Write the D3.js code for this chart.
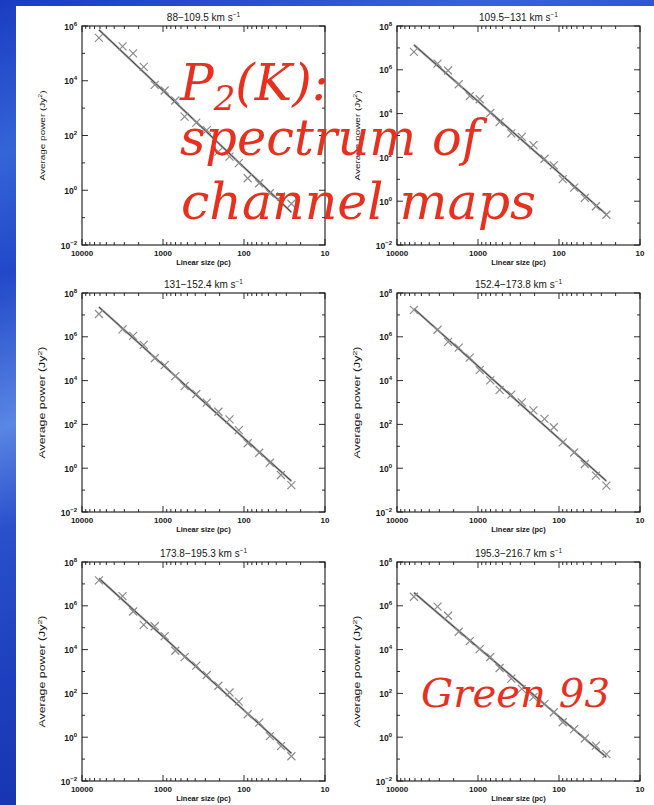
<!DOCTYPE html>
<html>
<head>
<meta charset="utf-8">
<script src="https://cdn.jsdelivr.net/npm/d3@7"></script>
<style>
  html, body { margin: 0; padding: 0; background: #fff; }
  svg { display: block; }
</style>
</head>
<body>
<svg id="fig" width="654" height="805"></svg>
<script>
// Velocity ranges of the six channel maps
const panelTitles = [
  "88\u2212109.5 km s", "109.5\u2212131 km s", "131\u2212152.4 km s",
  "152.4\u2212173.8 km s", "173.8\u2212195.3 km s", "195.3\u2212216.7 km s"
];
// Linear size (pc) sampled by the power spectrum
const linearSize = [6180, 3160, 2340, 1730, 1265, 953, 705, 541, 388, 288, 207, 151, 116, 90, 65, 48, 35, 26];
// Average power (Jy^2) for each channel map
const power88  = [3.7e5, 1.8e5, 1.0e5, 3.2e4, 7.1e3, 4.4e3, 1.9e3, 490, 295, 158, 25.7, 17, 9.8, 2.75, 1.8, 0.78, 0.59, 0.32];
const power110 = [6.6e6, 1.9e6, 9.3e5, 2.2e5, 6.3e4, 4.5e4, 1.07e4, 4.1e3, 1.26e3, 870, 363, 87, 43, 10.2, 4.2, 1.41, 0.59, 0.24];
const power131 = [1.1e7, 2.2e6, 1.1e6, 4.3e5, 1.05e5, 5.1e4, 1.6e4, 5.6e3, 2.45e3, 980, 380, 170, 55, 13.8, 5.1, 1.78, 0.49, 0.17];
const power152 = [1.7e7, 2.1e6, 5.9e5, 3.2e5, 1.12e5, 3.0e4, 1.02e4, 3.8e3, 2.3e3, 1.02e3, 440, 180, 74, 15.1, 5.2, 1.55, 0.46, 0.16];
const power174 = [1.45e7, 2.75e6, 5.5e5, 1.35e5, 1.17e5, 4.1e4, 8.9e3, 4.5e3, 1.86e3, 690, 224, 110, 42, 11.2, 4.6, 1.12, 0.39, 0.135];
const power195 = [2.6e6, 9.1e5, 3.5e5, 6.5e4, 2.45e4, 1.05e4, 4.6e3, 1.45e3, 470, 162, 68, 33, 13.8, 4.8, 2.35, 0.87, 0.41, 0.17];
const panelSeries = [power88, power110, power131, power152, power174, power195];
// Upper decade of each power axis (lower is always 10^-2)
const yMaxExp = [6, 8, 8, 8, 8, 8];
const yMinExp = -2;
// Tick labels of the size axis
const xTickValues = [10000, 1000, 100, 10];
const xTickLabels = ["10000", "1000", "100", "10"];

const W = 654, H = 805;
const svg = d3.select("#fig");
const defs = svg.append("defs");

// Slide backdrop: blue gradient behind a white sheet
const grad = defs.append("linearGradient").attr("id", "slideBlue")
  .attr("x1", 0).attr("y1", 0).attr("x2", 0.25).attr("y2", 1);
[[0, "#1b3cc2"], [0.18, "#3564d8"], [0.32, "#2248c9"], [0.5, "#5a86e4"],
 [0.62, "#2a50cc"], [0.8, "#1d3fbf"], [1, "#1632ad"]].forEach(([o, c]) =>
  grad.append("stop").attr("offset", o).attr("stop-color", c));
svg.append("rect").attr("width", W).attr("height", H).attr("fill", "url(#slideBlue)");
svg.append("rect").attr("x", 16).attr("y", 6).attr("width", W - 16).attr("height", H - 6).attr("fill", "#fff");

const panelLeft = [82, 397];
const panelTop = [26, 293, 562];
const pw = 243, ph = 219;
const font = "'Liberation Sans', Arial, sans-serif";
const ink = "#161616";

panelSeries.forEach((vals, i) => {
  const col = i % 2, row = Math.floor(i / 2);
  const g = svg.append("g").attr("transform", `translate(${panelLeft[col]},${panelTop[row]})`);

  const x = d3.scaleLog().domain([1e4, 10]).range([0, pw]);
  const y = d3.scaleLog().domain([Math.pow(10, yMinExp), Math.pow(10, yMaxExp[i])]).range([ph, 0]);

  // Size-axis ticks on bottom and top, pointing inward
  x.ticks().forEach(v => {
    const lv = Math.log10(v);
    const major = Math.abs(lv - Math.round(lv)) < 1e-9;
    const len = major ? 6 : 3;
    const px = x(v);
    g.append("line").attr("x1", px).attr("x2", px).attr("y1", ph).attr("y2", ph - len)
      .attr("stroke", ink).attr("stroke-width", 0.9);
    g.append("line").attr("x1", px).attr("x2", px).attr("y1", 0).attr("y2", len)
      .attr("stroke", ink).attr("stroke-width", 0.9);
  });
  xTickValues.forEach((v, k) => {
    g.append("text").attr("x", x(v)).attr("y", ph + 10.5)
      .attr("text-anchor", "middle").attr("font-family", font).attr("font-size", 8)
      .attr("font-weight", "bold").attr("fill", ink).text(xTickLabels[k]);
  });

  // Power-axis ticks every decade on left and right, labels every second decade
  d3.range(yMinExp, yMaxExp[i] + 1).forEach(e => {
    const v = Math.pow(10, e);
    const py = y(v);
    const major = (e % 2 === 0);
    const len = major ? 6 : 3;
    g.append("line").attr("x1", 0).attr("x2", len).attr("y1", py).attr("y2", py)
      .attr("stroke", ink).attr("stroke-width", 0.9);
    g.append("line").attr("x1", pw).attr("x2", pw - len).attr("y1", py).attr("y2", py)
      .attr("stroke", ink).attr("stroke-width", 0.9);
    if (major) {
      const t = g.append("text").attr("x", -5).attr("y", py + 3.5)
        .attr("text-anchor", "end").attr("font-family", font).attr("font-size", 8.5)
        .attr("font-weight", "bold").attr("fill", ink);
      t.append("tspan").text("10");
      t.append("tspan").attr("font-size", 6).attr("dy", -4).text(e < 0 ? "\u2212" + (-e) : String(e));
    }
  });

  // Frame
  g.append("rect").attr("width", pw).attr("height", ph).attr("fill", "none")
    .attr("stroke", ink).attr("stroke-width", 1.1);

  // Panel title
  const tt = g.append("text").attr("x", pw / 2).attr("y", -5).attr("text-anchor", "middle")
    .attr("font-family", font).attr("font-size", 10).attr("fill", ink);
  tt.append("tspan").text(panelTitles[i]);
  tt.append("tspan").attr("font-size", 6.5).attr("dy", -4).text("\u22121");

  // Axis titles
  g.append("text").attr("x", pw / 2).attr("y", ph + 19.5).attr("text-anchor", "middle")
    .attr("font-family", font).attr("font-size", 7.5).attr("font-weight", "bold")
    .attr("fill", ink).text("Linear size (pc)");
  const yt = g.append("text").attr("transform", `translate(-37,${ph / 2}) rotate(-90)`)
    .attr("text-anchor", "middle").attr("font-family", font)
    .attr("font-size", row === 0 ? 7 : 8.5)
    .attr("textLength", row === 0 ? 90 : 112).attr("lengthAdjust", "spacingAndGlyphs")
    .attr("fill", ink);
  yt.append("tspan").text("Average power (Jy");
  yt.append("tspan").attr("font-size", row === 0 ? 5 : 6).attr("dy", -3).text("2");
  yt.append("tspan").attr("dy", 3).text(")");

  // Power-law fit in log space
  const lx = linearSize.map(Math.log10), ly = vals.map(Math.log10);
  const mx = d3.mean(lx), my = d3.mean(ly);
  const slope = d3.sum(lx.map((a, k) => (a - mx) * (ly[k] - my))) / d3.sum(lx.map(a => (a - mx) * (a - mx)));
  const icpt = my - slope * mx;
  const ends = d3.extent(linearSize);
  const fitPts = ends.map(s => [x(s), y(Math.pow(10, icpt + slope * Math.log10(s)))]);
  g.append("path").attr("d", d3.line()(fitPts)).attr("stroke", "#9a9a9a").attr("stroke-width", 2.2).attr("fill", "none");
  g.append("path").attr("d", d3.line()(fitPts)).attr("stroke", "#3a3a3a").attr("stroke-width", 0.9).attr("fill", "none");

  // Measured points
  g.selectAll("path.pt").data(vals).enter().append("path").attr("class", "pt")
    .attr("transform", (d, k) => `translate(${x(linearSize[k])},${y(d)})`)
    .attr("d", "M-4,-4L4,4M-4,4L4,-4")
    .attr("stroke", "#8c8c8c").attr("stroke-width", 1.2).attr("fill", "none");
});

// Slide annotations
const red = "#e8301f";
const serif = "'DejaVu Serif', serif";
const ann = svg.append("g").attr("font-family", serif).attr("font-style", "italic").attr("fill", red);
const p2 = ann.append("text").attr("x", 180).attr("y", 100).attr("font-size", 50);
p2.append("tspan").text("P");
p2.append("tspan").attr("font-size", 34).attr("dy", 10).text("2");
p2.append("tspan").attr("dy", -10).text("(K):");
ann.append("text").attr("x", 180).attr("y", 155).attr("font-size", 50)
  .attr("textLength", 300).attr("lengthAdjust", "spacingAndGlyphs").text("spectrum of");
ann.append("text").attr("x", 181).attr("y", 219).attr("font-size", 50)
  .attr("textLength", 355).attr("lengthAdjust", "spacingAndGlyphs").text("channel maps");
ann.append("text").attr("x", 421).attr("y", 707).attr("font-size", 40)
  .attr("textLength", 189).attr("lengthAdjust", "spacingAndGlyphs").text("Green 93");
</script>
</body>
</html>
